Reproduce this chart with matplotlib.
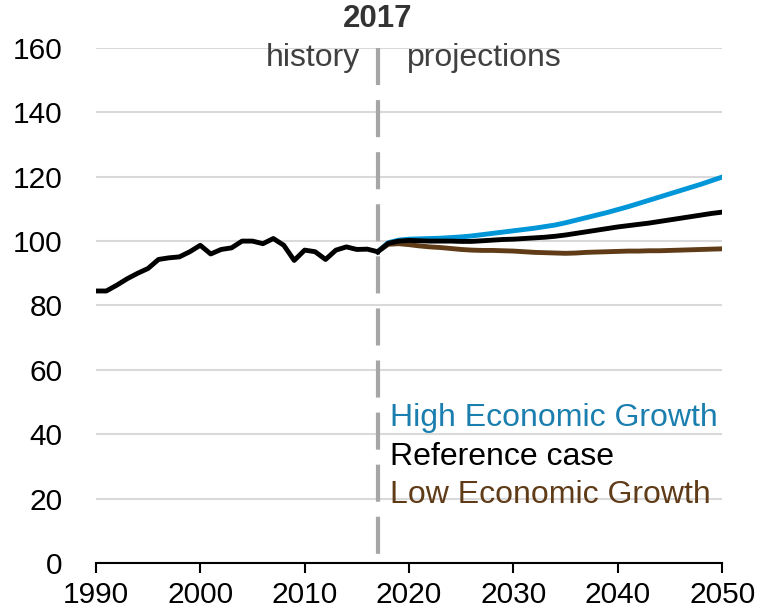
import numpy as np
import matplotlib.pyplot as plt

plt.rcParams['font.family'] = ['Liberation Sans', 'DejaVu Sans']

# history, 1990-2017
hist_years = list(range(1990, 2018))
hist_vals = [84.5, 84.5, 86.3, 88.3, 90.0, 91.5, 94.3, 94.8, 95.1, 96.7,
             98.7, 96.0, 97.4, 97.9, 100.0, 100.0, 99.2, 100.8, 98.7, 94.0,
             97.2, 96.7, 94.3, 97.2, 98.2, 97.4, 97.5, 96.7]

# projections, 2017-2050
proj_years = list(range(2017, 2051))
ref_vals = [96.7, 99.3, 100.0, 100.2, 100.1, 100.0, 100.0, 100.0, 99.9, 99.9,
            100.1, 100.3, 100.5, 100.6, 100.8, 101.0, 101.2, 101.5, 101.9, 102.4,
            102.9, 103.4, 103.9, 104.4, 104.8, 105.2, 105.6, 106.1, 106.6, 107.1,
            107.6, 108.1, 108.6, 109.0]
high_vals = [96.7, 99.5, 100.3, 100.6, 100.7, 100.8, 100.9, 101.1, 101.3, 101.6,
             102.0, 102.4, 102.8, 103.2, 103.6, 104.0, 104.5, 105.0, 105.7, 106.5,
             107.3, 108.1, 108.9, 109.8, 110.7, 111.7, 112.7, 113.7, 114.7, 115.7,
             116.7, 117.7, 118.8, 119.9]
low_vals = [96.7, 99.0, 99.2, 98.9, 98.5, 98.2, 98.0, 97.7, 97.4, 97.2,
            97.1, 97.1, 97.0, 96.9, 96.7, 96.5, 96.4, 96.3, 96.2, 96.3,
            96.5, 96.6, 96.7, 96.8, 96.9, 96.9, 97.0, 97.0, 97.1, 97.2,
            97.3, 97.4, 97.5, 97.6]

blue = '#0096d7'
brown = '#5f3b17'
fs = 21.5   # tick labels
tfs = 23    # annotations

fig = plt.figure(figsize=(7.61, 6.15), dpi=100)
ax = fig.add_axes([0.126, 0.0846, 0.823, 0.8374])

# history / projections divider, drawn top-down so the dash starts at the top
ax.plot([2017, 2017], [160, 0], color='#a6a6a6', lw=3, dashes=(8.9, 3.6),
        zorder=1, clip_on=False)

ax.plot(proj_years, low_vals, color=brown, lw=3.5, zorder=3)
ax.plot(proj_years, high_vals, color=blue, lw=3.5, zorder=3)
ax.plot(proj_years, ref_vals, color='black', lw=3.5, zorder=4)
ax.plot(hist_years, hist_vals, color='black', lw=3.5, zorder=4)

ax.set_xlim(1990, 2050)
ax.set_ylim(0, 160)
ax.set_xticks(range(1990, 2051, 10))
ax.set_yticks(range(0, 161, 20))
ax.grid(axis='y', color='#d9d9d9', lw=1.5, zorder=0)
ax.set_axisbelow(True)

for s in ['left', 'right', 'top']:
    ax.spines[s].set_visible(False)
ax.spines['bottom'].set_linewidth(1.5)
ax.tick_params(axis='x', direction='out', length=7, width=1.5, labelsize=fs, pad=6)
ax.tick_params(axis='y', length=0, labelsize=fs, pad=24)

ax.text(2017, 169, '2017', ha='center', va='center', fontsize=22.5,
        fontweight='bold', color='#333333')
ax.text(2015.3, 157, 'history', ha='right', va='center', fontsize=tfs, color='#404040')
ax.text(2019.8, 157, 'projections', ha='left', va='center', fontsize=tfs, color='#404040')

ax.text(2018.2, 45, 'High Economic Growth', fontsize=tfs, color='#1a7fae', va='center')
ax.text(2018.2, 33, 'Reference case', fontsize=tfs, color='black', va='center')
ax.text(2018.2, 21, 'Low Economic Growth', fontsize=tfs, color=brown, va='center')

fig.savefig('out.png', dpi=100)
